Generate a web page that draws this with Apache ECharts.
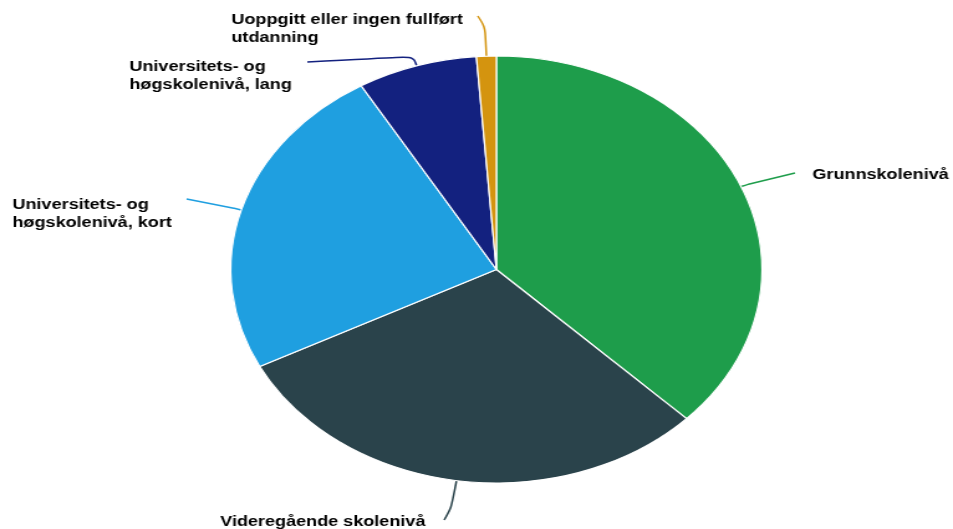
<!DOCTYPE html>
<html>
<head>
<meta charset="utf-8">
<script src="https://cdn.jsdelivr.net/npm/echarts@6/dist/echarts.min.js"></script>
<style>
  html, body { margin: 0; padding: 0; background: #fff; overflow: hidden; }
  /* the reference picture is stretched sideways, so draw narrow and stretch */
  #chart { width: 766px; height: 529px; transform: scaleX(1.2441); transform-origin: 0 0; }
</style>
</head>
<body>
<div id="chart"></div>
<script>
const categories = [
  "Grunnskolenivå",
  "Videregående skolenivå",
  "Universitets- og høgskolenivå, kort",
  "Universitets- og høgskolenivå, lang",
  "Uoppgitt eller ingen fullført utdanning"
];
const values = [37.3, 30.2, 24.0, 7.3, 1.2];

const colors = ["#1e9d4b", "#2a434b", "#1f9fe0", "#13217f", "#d4940f"];
// label placement (unscaled px): left edge of text, middle y, wrap width, line end, bend
const labelSpots = [
  { x: 653, y: 175, w: null, end: [639, 173], ext: 6 },
  { x: 177, y: 522, w: null, end: [357, 520], ext: 28 },
  { x: 10, y: 214, w: 155, end: [150, 199], ext: 6 },
  { x: 104, y: 76, w: 155, end: [247, 62], ext: 10 },
  { x: 186, y: 29, w: 200, end: [384, 16], ext: 30 }
];

const cx = 399, cy = 269.5, r = 213.5;

var chartDom = document.getElementById("chart");
var myChart = echarts.init(chartDom);

var data = categories.map(function (name, i) {
  var d = { name: name, value: values[i], itemStyle: { color: colors[i] } };
  if (labelSpots[i].w) {
    d.label = { width: labelSpots[i].w, overflow: "break" };
  }
  return d;
});

var option = {
  animation: false,
  series: [
    {
      type: "pie",
      center: [cx, cy],
      radius: r,
      startAngle: 90,
      clockwise: true,
      avoidLabelOverlap: false,
      data: data,
      itemStyle: { borderColor: "#fff", borderWidth: 1.2 },
      label: {
        show: true,
        formatter: "{b}",
        color: "#000",
        fontFamily: "Liberation Sans, Arial, sans-serif",
        fontWeight: "bold",
        fontSize: 14.5,
        lineHeight: 18
      },
      labelLine: {
        show: true,
        smooth: 0.35,
        length: 10,
        length2: 10,
        lineStyle: { width: 1.5 }
      },
      labelLayout: function (p) {
        var s = labelSpots[p.dataIndex];
        var start;
        if (p.labelLinePoints && p.labelLinePoints.length) {
          start = p.labelLinePoints[0];
        } else {
          start = [cx, cy - r];
        }
        var dx = start[0] - cx, dy = start[1] - cy;
        var len = Math.sqrt(dx * dx + dy * dy) || 1;
        var bend = [start[0] + dx / len * s.ext, start[1] + dy / len * s.ext];
        return {
          x: s.x,
          y: s.y,
          align: "left",
          verticalAlign: "middle",
          labelLinePoints: [start, bend, s.end]
        };
      }
    }
  ]
};
option && myChart.setOption(option);
</script>
</body>
</html>
